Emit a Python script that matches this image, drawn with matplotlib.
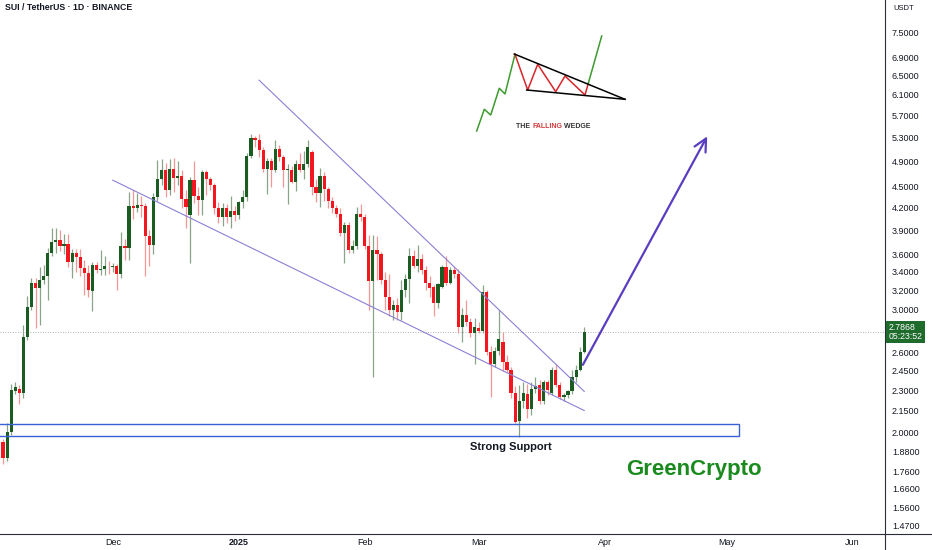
import matplotlib
matplotlib.use("Agg")
import matplotlib.pyplot as plt
import matplotlib.dates as mdates
from matplotlib.patches import Rectangle
from matplotlib.lines import Line2D
from matplotlib.ticker import FixedLocator, FormatStrFormatter, NullLocator, NullFormatter
import pandas as pd

plt.rcParams["font.family"] = ["Liberation Sans", "DejaVu Sans"]

# SUI/USDT daily candles (Nov 4 2024 -> Mar 27 2025)
first_day = "2024-11-04"
opens = [
    1.94, 1.84, 2.00, 2.29, 2.31, 2.28, 2.74, 3.03, 3.28, 3.22,
    3.31, 3.35, 3.62, 3.75, 3.78, 3.70, 3.73, 3.51, 3.62, 3.57,
    3.44, 3.39, 3.19, 3.48, 3.42, 3.43, 3.47, 3.455, 3.46, 3.37,
    3.70, 3.68, 4.22, 4.20, 4.24, 4.22, 3.83, 3.71, 4.35, 4.62,
    4.76, 4.46, 4.78, 4.63, 4.66, 4.33, 4.10, 4.60, 4.36, 4.31,
    4.72, 4.62, 4.53, 4.20, 4.07, 4.20, 4.07, 4.16, 4.10, 4.28,
    4.35, 4.98, 5.29, 5.25, 5.09, 4.78, 4.90, 4.76, 5.10, 4.97,
    4.75, 4.76, 4.58, 4.85, 4.76, 4.85, 5.05, 4.50, 4.41, 4.66,
    4.47, 4.29, 4.19, 4.12, 3.87, 3.97, 3.65, 3.70, 4.11, 4.07,
    3.70, 3.30, 3.65, 3.60, 3.31, 3.13, 3.00, 3.05, 2.98, 3.20,
    3.32, 3.58, 3.46, 3.55, 3.42, 3.28, 3.23, 3.07, 3.23, 3.45,
    3.28, 3.42, 3.38, 2.83, 2.95, 2.88, 2.78, 2.82, 2.80, 3.18,
    2.61, 2.51, 2.62, 2.70, 2.52, 2.46, 2.28, 2.08, 2.22, 2.27,
    2.16, 2.31, 2.34, 2.22, 2.36, 2.28, 2.46, 2.34, 2.25, 2.26,
    2.29, 2.40, 2.46, 2.61,
]
highs = [
    1.96, 2.06, 2.35, 2.36, 2.34, 2.85, 3.14, 3.33, 3.33, 3.45,
    3.48, 3.68, 3.93, 3.93, 3.90, 3.85, 3.85, 3.67, 3.67, 3.66,
    3.53, 3.48, 3.51, 3.51, 3.65, 3.58, 3.52, 3.50, 3.49, 3.88,
    3.79, 4.43, 4.46, 4.41, 4.36, 4.27, 3.90, 4.41, 4.92, 4.93,
    4.87, 4.93, 4.95, 4.90, 4.76, 4.45, 4.65, 4.90, 4.50, 4.76,
    4.76, 4.65, 4.56, 4.28, 4.26, 4.25, 4.36, 4.22, 4.30, 4.45,
    5.04, 5.35, 5.33, 5.36, 5.14, 4.95, 4.95, 5.25, 5.17, 5.00,
    4.85, 4.82, 4.92, 5.04, 5.07, 5.25, 5.08, 4.62, 4.79, 4.72,
    4.50, 4.35, 4.24, 4.20, 4.01, 4.01, 3.78, 4.21, 4.25, 4.11,
    3.84, 3.84, 3.82, 3.63, 3.40, 3.38, 3.10, 3.12, 3.31, 3.38,
    3.68, 3.65, 3.71, 3.60, 3.46, 3.35, 3.25, 3.28, 3.48, 3.58,
    3.45, 3.45, 3.43, 3.02, 3.10, 2.92, 2.92, 2.88, 3.25, 3.20,
    2.66, 2.65, 3.00, 2.79, 2.58, 2.48, 2.33, 2.34, 2.36, 2.35,
    2.36, 2.40, 2.38, 2.38, 2.38, 2.48, 2.51, 2.36, 2.28, 2.30,
    2.46, 2.50, 2.65, 2.83,
]
lows = [
    1.80, 1.82, 1.98, 2.27, 2.20, 2.24, 2.71, 3.00, 2.82, 2.85,
    3.27, 3.10, 3.58, 3.62, 3.64, 3.60, 3.45, 3.33, 3.40, 3.35,
    3.15, 3.13, 2.99, 3.39, 3.36, 3.36, 3.38, 3.40, 3.20, 3.33,
    3.53, 3.53, 4.04, 4.14, 4.08, 3.35, 3.47, 3.60, 4.30, 4.52,
    4.35, 4.38, 4.43, 4.52, 4.20, 3.93, 3.50, 4.27, 4.10, 4.10,
    4.38, 4.45, 4.12, 4.00, 3.96, 4.00, 3.93, 4.02, 4.04, 4.20,
    4.30, 4.95, 5.14, 4.97, 4.72, 4.40, 4.50, 4.72, 4.90, 4.50,
    4.25, 4.55, 4.44, 4.73, 4.62, 4.80, 4.38, 4.28, 4.21, 4.30,
    4.20, 4.13, 4.08, 3.83, 3.50, 3.62, 3.62, 3.66, 4.02, 3.66,
    3.00, 2.40, 3.31, 3.27, 3.00, 2.94, 2.90, 2.90, 2.90, 3.13,
    3.07, 3.44, 3.40, 3.38, 3.20, 3.13, 2.94, 3.02, 3.22, 3.25,
    3.26, 3.33, 2.78, 2.70, 2.84, 2.74, 2.51, 2.78, 2.78, 2.58,
    2.25, 2.48, 2.58, 2.45, 2.44, 2.24, 2.06, 1.97, 2.17, 2.10,
    2.12, 2.28, 2.20, 2.20, 2.26, 2.26, 2.32, 2.23, 2.22, 2.24,
    2.27, 2.36, 2.45, 2.60,
]
closes = [
    1.84, 2.00, 2.30, 2.32, 2.28, 2.74, 3.03, 3.28, 3.22, 3.31,
    3.35, 3.62, 3.75, 3.78, 3.70, 3.73, 3.51, 3.62, 3.57, 3.44,
    3.39, 3.20, 3.48, 3.42, 3.43, 3.47, 3.46, 3.465, 3.37, 3.70,
    3.68, 4.22, 4.20, 4.24, 4.22, 3.83, 3.71, 4.35, 4.62, 4.76,
    4.46, 4.78, 4.64, 4.66, 4.33, 4.21, 4.60, 4.36, 4.31, 4.72,
    4.62, 4.53, 4.19, 4.07, 4.20, 4.07, 4.16, 4.10, 4.28, 4.35,
    4.98, 5.29, 5.25, 5.09, 4.78, 4.90, 4.76, 5.10, 4.97, 4.75,
    4.78, 4.58, 4.85, 4.76, 4.85, 5.14, 4.50, 4.41, 4.66, 4.47,
    4.29, 4.19, 4.12, 3.87, 3.97, 3.65, 3.70, 4.11, 4.07, 3.70,
    3.30, 3.65, 3.60, 3.31, 3.13, 3.00, 3.05, 2.98, 3.20, 3.32,
    3.58, 3.46, 3.55, 3.42, 3.28, 3.22, 3.07, 3.26, 3.45, 3.28,
    3.42, 3.38, 2.83, 2.95, 2.88, 2.78, 2.83, 2.80, 3.18, 2.61,
    2.51, 2.62, 2.72, 2.52, 2.46, 2.28, 2.07, 2.22, 2.28, 2.16,
    2.31, 2.33, 2.22, 2.36, 2.30, 2.46, 2.34, 2.25, 2.26, 2.29,
    2.40, 2.46, 2.61, 2.7868,
]

last_price = 2.7868
price_ticks = [1.47, 1.56, 1.66, 1.76, 1.88, 2.0, 2.15, 2.3, 2.45, 2.6, 3.0, 3.2,
               3.4, 3.6, 3.9, 4.2, 4.5, 4.9, 5.3, 5.7, 6.1, 6.5, 6.9, 7.5]
month_ticks = ["2024-12-01", "2025-01-01", "2025-02-01", "2025-03-01",
               "2025-04-01", "2025-05-01", "2025-06-01"]
month_labels = ["Dec", "2025", "Feb", "Mar", "Apr", "May", "Jun"]

# drawings on the chart
lower_line = (["2024-12-01", "2025-03-27"], [4.60, 2.15])
upper_line = (["2025-01-06", "2025-03-27"], [6.40, 2.29])
arrow_from = ("2025-03-26 08:00", 2.48)
arrow_to = ("2025-04-26 14:00", 5.36)
support_lo, support_hi = 1.976, 2.056
support_end = "2025-05-04"

# falling wedge sketch (sketch units)
rise_x = [6.7, 14.3, 20.7, 29.3, 35, 45]
rise_y = [101, 79.3, 85, 58.3, 64, 24.3]
wedge_x = [45, 57.7, 67.7, 85.7, 95, 115, 118.3]
wedge_y = [24.3, 60, 34.3, 61.7, 46, 65, 53.3]
breakout_x = [118.3, 131.7]
breakout_y = [53.3, 6]

dates = pd.date_range(first_day, periods=len(opens), freq="D")
x = mdates.date2num(dates)

GREEN = "#1b5c22"
RED = "#f2161e"
body_col = [GREEN if c >= o else RED for o, c in zip(opens, closes)]
wick_col = ["#8aa48a" if c >= o else "#f39696" for o, c in zip(opens, closes)]

fig = plt.figure(figsize=(9.32, 5.5), dpi=100)
ax = fig.add_axes([0, 16 / 550, 885 / 932, 534 / 550])
ax.set_yscale("log")

ax.vlines(x, lows, highs, colors=wick_col, lw=0.9, zorder=2)
bottoms = [min(o, c) for o, c in zip(opens, closes)]
heights = [max(abs(c - o), 0.008) for o, c in zip(opens, closes)]
ax.bar(x, heights, bottom=bottoms, width=0.78, color=body_col, lw=0, zorder=3)

ax.axhline(last_price, color="#9598a1", lw=0.6, ls=(0, (1, 2)), zorder=1)

# wedge lines
for xs, ys in (lower_line, upper_line):
    ax.plot(mdates.date2num(pd.to_datetime(xs)), ys, color="#8a80d4", lw=0.8, zorder=4)

# support zone
sx0 = mdates.date2num(pd.Timestamp("2024-10-20"))
sx1 = mdates.date2num(pd.Timestamp(support_end))
ax.add_patch(Rectangle((sx0, support_lo), sx1 - sx0, support_hi - support_lo,
                       fill=False, ec="#3a62d6", lw=1.0, zorder=4))
ax.text(mdates.date2num(pd.Timestamp("2025-03-09")), 1.907, "Strong Support",
        ha="center", va="center", fontsize=8, fontweight="bold", color="#131722")

# projection arrow
ax.annotate("", xy=(mdates.date2num(pd.Timestamp(arrow_to[0])), arrow_to[1]),
            xytext=(mdates.date2num(pd.Timestamp(arrow_from[0])), arrow_from[1]),
            arrowprops=dict(arrowstyle="->,head_length=0.9,head_width=0.45",
                            color="#5a3dc0", lw=1.6, mutation_scale=10),
            zorder=5)

ax.text(mdates.date2num(pd.Timestamp("2025-04-23")), 1.77, "GreenCrypto",
        ha="center", va="center", fontsize=16, fontweight="bold", color="#1a8a1f")

ax.set_xlim(mdates.date2num(pd.Timestamp("2024-11-03 06:00")),
            mdates.date2num(pd.Timestamp("2025-06-09")))
ax.set_ylim(1.43, 8.34)

ax.yaxis.tick_right()
ax.yaxis.set_major_locator(FixedLocator(price_ticks))
ax.yaxis.set_major_formatter(FormatStrFormatter("%.4f"))
ax.yaxis.set_minor_locator(NullLocator())
ax.yaxis.set_minor_formatter(NullFormatter())
ax.tick_params(axis="y", length=0, pad=5, labelsize=6.5, labelcolor="#131722")

ax.set_xticks(mdates.date2num(pd.to_datetime(month_ticks)))
ax.set_xticklabels(month_labels)
ax.xaxis.set_minor_locator(NullLocator())
ax.tick_params(axis="x", length=0, pad=3, labelsize=6.5, labelcolor="#131722")
ax.get_xticklabels()[1].set_fontweight("bold")

for s in ("top", "left"):
    ax.spines[s].set_visible(False)
for s in ("right", "bottom"):
    ax.spines[s].set_color("#2a2e39")
    ax.spines[s].set_linewidth(0.8)

# axis lines run on to the figure edges
fig.add_artist(Line2D([885 / 932, 885 / 932], [0, 16 / 550], color="#2a2e39", lw=0.8))
fig.add_artist(Line2D([885 / 932, 1], [16 / 550, 16 / 550], color="#2a2e39", lw=0.8))

# last price tag
ax.text(1.004, last_price, "2.7868\n05:23:52", transform=ax.get_yaxis_transform(),
        ha="left", va="center", fontsize=6.3, color="white", linespacing=1.05,
        bbox=dict(boxstyle="square,pad=0.25", fc="#1e6b2c", ec="none"), clip_on=False)

fig.text(5 / 932, 1 - 7 / 550, "SUI / TetherUS · 1D · BINANCE", ha="left", va="center",
         fontsize=6.3, fontweight="bold", color="#131722")
fig.text(893 / 932, 1 - 8 / 550, "USDT", ha="left", va="center", fontsize=5.5,
         color="#131722")

# falling wedge sketch
ins = fig.add_axes([470 / 932, 1 - 135 / 550, 160 / 932, 105 / 550])
ins.set_xlim(0, 160)
ins.set_ylim(105, 0)
ins.axis("off")
ins.plot(rise_x, rise_y, color="#3c9a2e", lw=1.1)
ins.plot(wedge_x, wedge_y, color="#d8262b", lw=1.1)
ins.plot(breakout_x, breakout_y, color="#3c9a2e", lw=1.1)
ins.plot([44.3, 155], [24, 69.3], color="black", lw=1.1)
ins.plot([56.7, 155], [60, 69.3], color="black", lw=1.1)
t1 = ins.text(46, 96, "THE ", fontsize=5, fontweight="bold", color="#333333",
              ha="left", va="center")
t2 = ins.annotate("FALLING", xycoords=t1, xy=(1, 0), va="bottom", fontsize=5,
                  fontweight="bold", color="#d03a3a")
ins.annotate(" WEDGE", xycoords=t2, xy=(1, 0), va="bottom", fontsize=5,
             fontweight="bold", color="#333333")

fig.savefig("out.png", dpi=100, facecolor="white")
